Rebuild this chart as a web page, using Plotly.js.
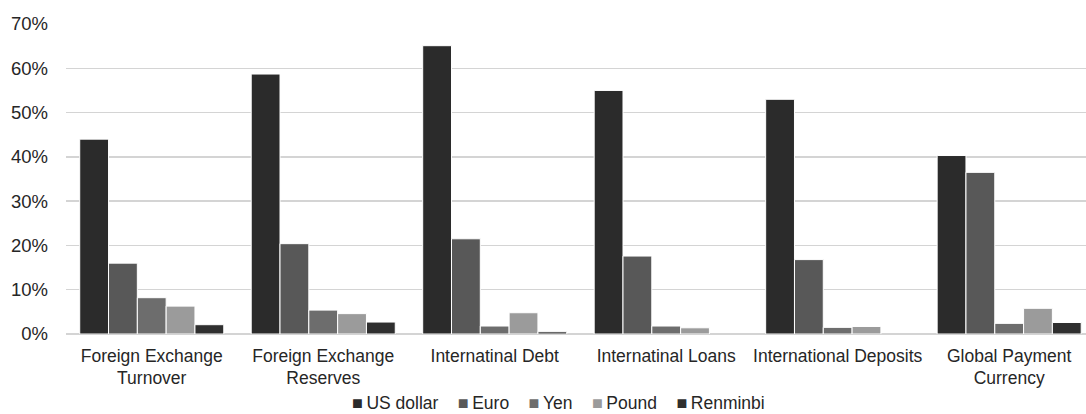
<!DOCTYPE html>
<html>
<head>
<meta charset="utf-8">
<script src="https://cdn.plot.ly/plotly-3.0.1.min.js"></script>
<style>html,body{margin:0;padding:0;background:#fff;}#chart{width:1086px;height:414px;}</style>
</head>
<body>
<div id="chart"></div>
<script>
const categories = ["Foreign Exchange<br>Turnover", "Foreign Exchange<br>Reserves", "Internatinal Debt", "Internatinal Loans", "International Deposits", "Global Payment<br>Currency"];
const seriesNames = ["US dollar", "Euro", "Yen", "Pound", "Renminbi"];
const usDollar = [44.0, 58.7, 65.1, 55.0, 53.0, 40.3];
const euro     = [16.0, 20.4, 21.5, 17.6, 16.8, 36.5];
const yen      = [8.2, 5.4, 1.8, 1.8, 1.5, 2.4];
const pound    = [6.3, 4.6, 4.8, 1.4, 1.7, 5.8];
const renminbi = [2.1, 2.7, 0.5, null, null, 2.6];
const seriesValues = [usDollar, euro, yen, pound, renminbi];
const colors = ["#2b2b2b", "#585858", "#6d6d6d", "#9b9b9b", "#2f2f2f"];
const yTickVals = [0, 10, 20, 30, 40, 50, 60, 70];
const yTickText = ["0%", "10%", "20%", "30%", "40%", "50%", "60%", "70%"];

const font = {family: "Liberation Sans, Arial, sans-serif", size: 17.5, color: "#262626"};
const yFont = {family: "Liberation Sans, Arial, sans-serif", size: 18.5, color: "#262626"};

const traces = seriesNames.map((name, i) => ({
  type: "bar",
  name: name,
  x: categories,
  y: seriesValues[i],
  marker: {color: colors[i], line: {color: "#ffffff", width: 1}},
  hoverinfo: "x+y+name"
}));

const legendText = seriesNames.map((n, i) =>
  '<span style="color:' + colors[i] + ';font-size:18px">■</span>\u2009' + n
).join('\u00a0\u00a0\u00a0\u00a0');

const layout = {
  width: 1086, height: 414,
  margin: {l: 66, r: 0, t: 24, b: 80, pad: 0},
  paper_bgcolor: "#ffffff", plot_bgcolor: "#ffffff",
  font: font,
  barmode: "group",
  bargap: 0.16, bargroupgap: 0,
  showlegend: false,
  xaxis: {
    type: "category",
    range: [-0.5, 5.448],
    showgrid: false, zeroline: false, showline: false,
    ticks: "", tickfont: font, ticklabelstandoff: 9,
    fixedrange: true
  },
  yaxis: {
    range: [0, 70],
    tickvals: yTickVals, ticktext: yTickText,
    showgrid: true, gridcolor: "#d4d4d4", gridwidth: 1.5,
    zeroline: true, zerolinecolor: "#d4d4d4", zerolinewidth: 1.5,
    showline: false, ticks: "", tickfont: yFont,
    ticklabelstandoff: 17,
    fixedrange: true
  },
  annotations: [{
    xref: "paper", yref: "paper",
    x: 0.483, y: -0.2226, xanchor: "center", yanchor: "middle",
    showarrow: false, text: legendText, font: font
  }]
};

Plotly.newPlot("chart", traces, layout, {displayModeBar: false, staticPlot: true});
</script>
</body>
</html>
